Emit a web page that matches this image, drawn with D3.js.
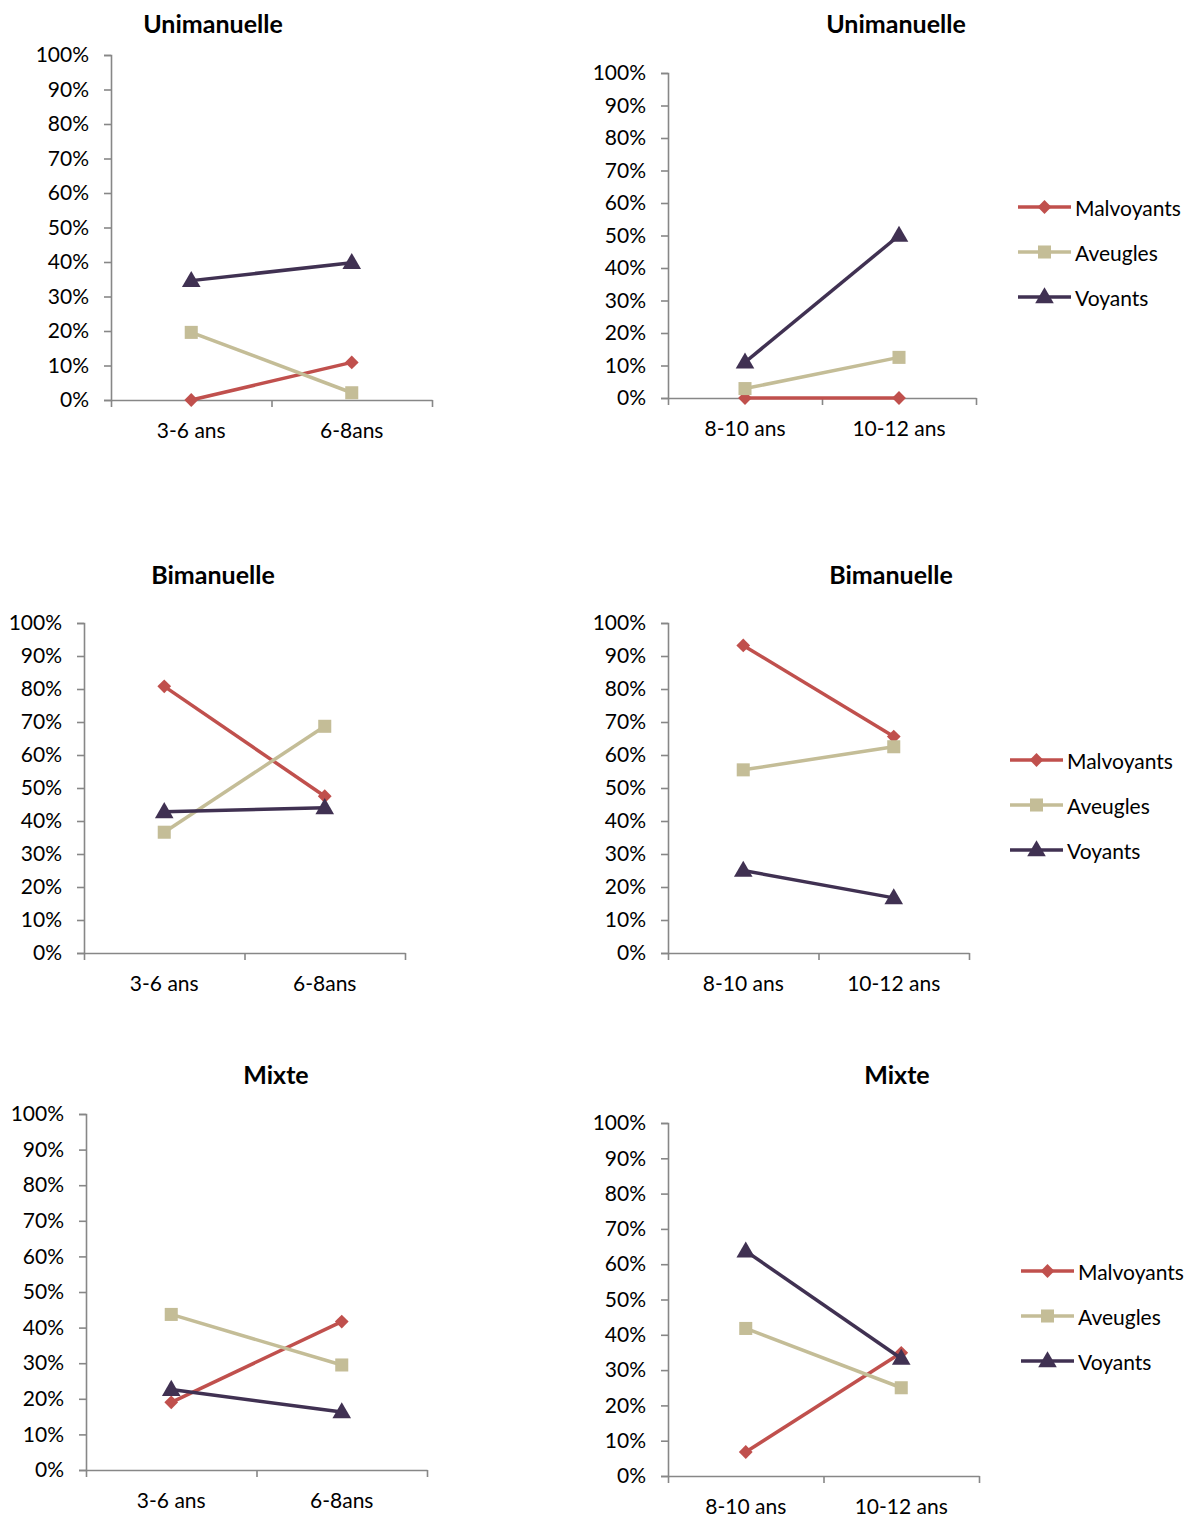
<!DOCTYPE html>
<html><head><meta charset="utf-8">
<script src="https://cdn.jsdelivr.net/npm/d3@7"></script>
<style>
body{margin:0;background:#fff;}
svg text{font-family:Lato,"Open Sans",sans-serif;fill:#000;}
</style></head>
<body><svg id="c" width="1199" height="1517"></svg>
<script>
// ---------- DATA ----------
const seriesNames = ["Malvoyants", "Aveugles", "Voyants"];
const catsYoung = ["3-6 ans", "6-8ans"];
const catsOld = ["8-10 ans", "10-12 ans"];
const yTickValues = [0, 0.1, 0.2, 0.3, 0.4, 0.5, 0.6, 0.7, 0.8, 0.9, 1];
const panelTitles = ["Unimanuelle", "Unimanuelle", "Bimanuelle", "Bimanuelle", "Mixte", "Mixte"];
// values in series order: Malvoyants, Aveugles, Voyants
const uniYoung = [[0, 0.109], [0.196, 0.021], [0.346, 0.398]];
const uniOld   = [[0, 0], [0.029, 0.125], [0.11, 0.50]];
const biYoung  = [[0.808, 0.475], [0.366, 0.687], [0.428, 0.44]];
const biOld    = [[0.932, 0.656], [0.555, 0.625], [0.25, 0.167]];
const mixYoung = [[0.19, 0.417], [0.437, 0.295], [0.226, 0.163]];
const mixOld   = [[0.068, 0.349], [0.418, 0.25], [0.637, 0.333]];

// ---------- STYLE / LAYOUT ----------
const colors = ["#C0504D", "#C4BD97", "#403152"];
const markerTypes = [d3.symbolSquare, d3.symbolSquare, d3.symbolTriangle];
const markerSizes = [95, 170, 150];
const markerRot = [45, 0, 0];
const axisColor = "#878787";

const panels = [
  {data: uniYoung, cats: catsYoung, l: 111, r: 432, t: 55, b: 400, tx: 213, ty: 23, legend: null},
  {data: uniOld, cats: catsOld, l: 668, r: 976, t: 73, b: 398, tx: 896, ty: 23, legend: {x: 1018, y: 207}},
  {data: biYoung, cats: catsYoung, l: 84, r: 405, t: 623, b: 953, tx: 213, ty: 574, legend: null},
  {data: biOld, cats: catsOld, l: 668, r: 969, t: 623, b: 953, tx: 891, ty: 574, legend: {x: 1010, y: 760}},
  {data: mixYoung, cats: catsYoung, l: 86, r: 427, t: 1114, b: 1470, tx: 276, ty: 1074, legend: null},
  {data: mixOld, cats: catsOld, l: 668, r: 979, t: 1123, b: 1476, tx: 897, ty: 1074, legend: {x: 1021, y: 1271}}
];

const svg = d3.select("#c");

function marker(sel, si, cx, cy) {
  sel.append("path")
    .attr("transform", `translate(${cx},${cy + (si === 2 ? 1 : 0)}) rotate(${markerRot[si]})`)
    .attr("d", d3.symbol().type(markerTypes[si]).size(markerSizes[si])())
    .attr("fill", colors[si]);
}

panels.forEach((p, pi) => {
  const g = svg.append("g");
  const x = d3.scaleBand().domain(p.cats).range([p.l, p.r]);
  const y = d3.scaleLinear().domain([0, 1]).range([p.b, p.t]);
  const xb = d3.scaleLinear().domain([0, p.cats.length]).range([p.l, p.r]);

  // title
  g.append("text").attr("x", p.tx).attr("y", p.ty).attr("text-anchor", "middle")
    .attr("dominant-baseline", "central").style("font-weight", "bold").style("font-size", "25px")
    .text(panelTitles[pi]);

  // y axis
  const ya = g.append("g").attr("transform", `translate(${p.l},0)`)
    .call(d3.axisLeft(y).tickValues(yTickValues).tickFormat(d3.format(".0%")).tickSize(7).tickPadding(15));
  ya.select(".domain").attr("stroke", axisColor).attr("stroke-width", 1.6);
  ya.selectAll(".tick line").attr("stroke", axisColor).attr("stroke-width", 1.6);
  ya.selectAll(".tick text").style("font-size", "21px").style("font-family", "Lato").attr("fill", "#000");

  // x axis: boundary ticks
  const xa = g.append("g").attr("transform", `translate(0,${p.b})`)
    .call(d3.axisBottom(xb).tickValues(d3.range(p.cats.length + 1)).tickFormat("").tickSize(7).tickSizeOuter(0));
  xa.select(".domain").attr("stroke", axisColor).attr("stroke-width", 1.6);
  xa.selectAll(".tick line").attr("stroke", axisColor).attr("stroke-width", 1.6);
  // category labels
  const xl = g.append("g").attr("transform", `translate(0,${p.b})`)
    .call(d3.axisBottom(x).tickSize(0).tickPadding(23));
  xl.select(".domain").remove();
  xl.selectAll(".tick text").style("font-size", "21px").style("font-family", "Lato").attr("fill", "#000");

  // series
  p.data.forEach((vals, si) => {
    const pts = vals.map((v, i) => [x(p.cats[i]) + x.bandwidth() / 2, y(v)]);
    g.append("path").attr("d", d3.line()(pts)).attr("fill", "none")
      .attr("stroke", colors[si]).attr("stroke-width", 3.5);
    pts.forEach(pt => marker(g, si, pt[0], pt[1]));
  });

  // legend
  if (p.legend) {
    seriesNames.forEach((name, si) => {
      const ly = p.legend.y + si * 45;
      g.append("line").attr("x1", p.legend.x).attr("x2", p.legend.x + 53)
        .attr("y1", ly).attr("y2", ly).attr("stroke", colors[si]).attr("stroke-width", 3.5);
      marker(g, si, p.legend.x + 26.5, ly);
      g.append("text").attr("x", p.legend.x + 57).attr("y", ly).attr("dominant-baseline", "central")
        .style("font-size", "21px").text(name);
    });
  }
});
</script></body></html>
